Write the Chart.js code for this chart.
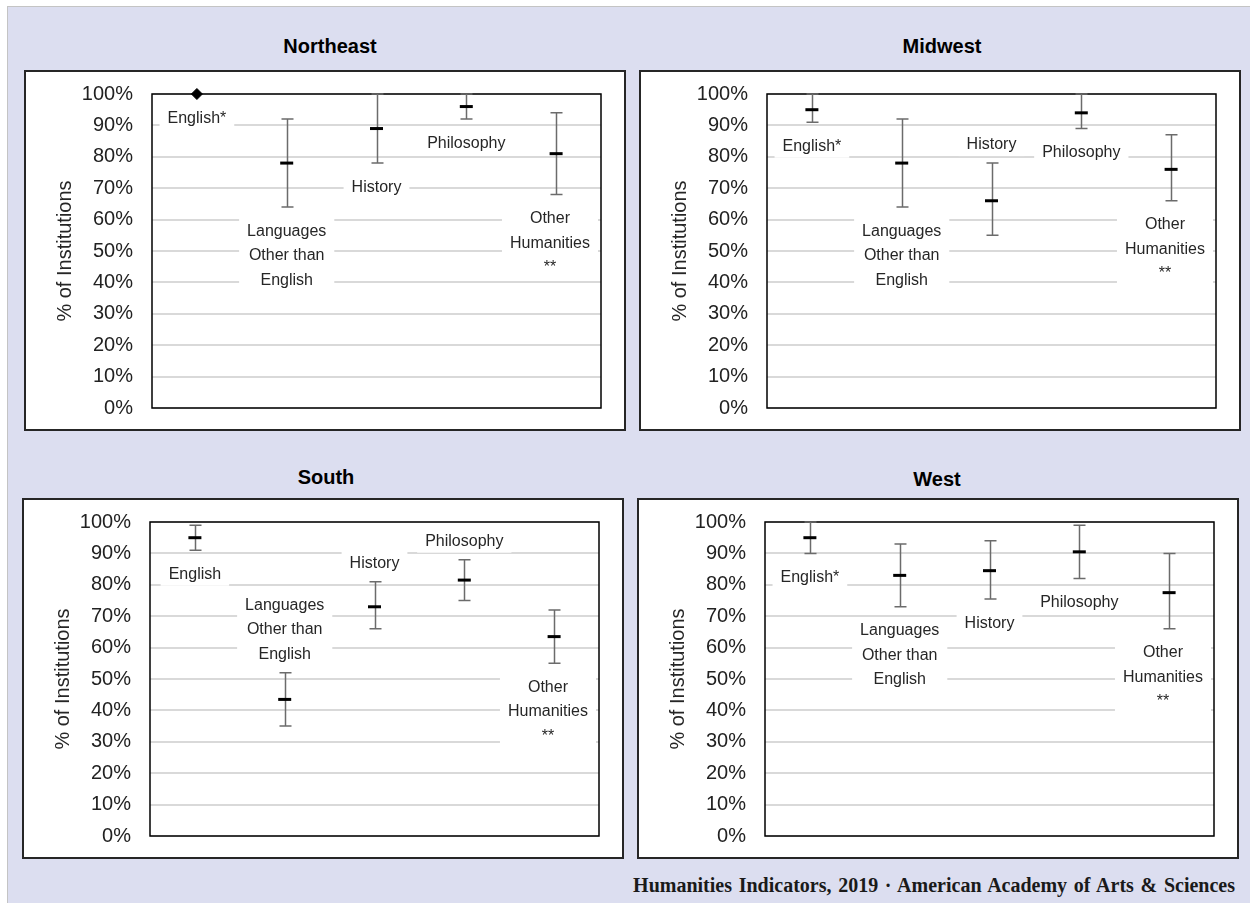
<!DOCTYPE html>
<html>
<head>
<meta charset="utf-8">
<script src="https://cdn.jsdelivr.net/npm/chart.js@4.4.1/dist/chart.umd.min.js"></script>
<style>
  body { margin: 0; width: 1250px; height: 903px; position: relative; background: #fff; overflow: hidden;
         font-family: "Liberation Sans", Arial, sans-serif; }
  .page { position: absolute; left: 7px; top: 6px; right: 0; bottom: 0; background: #dcdef0;
          border-left: 1px solid #c4c4c4; border-top: 1px solid #c4c4c4; }
  .title { position: absolute; transform: translate(-50%, -50%); font-weight: bold; font-size: 20px; color: #000; }
  .panel { position: absolute; width: 598px; height: 357px; background: #fff; border: 2px solid #262626; }
  .footer { position: absolute; right: 15px; top: 874px; font-family: "Liberation Serif", "Times New Roman", serif;
            font-weight: bold; font-size: 20px; word-spacing: 1.7px; color: #1a1a1a; }
</style>
</head>
<body>
<div class="page"></div>

<div class="title" style="left:330px; top:46px;">Northeast</div>
<div class="title" style="left:942px; top:46px;">Midwest</div>
<div class="title" style="left:326px; top:477px;">South</div>
<div class="title" style="left:937px; top:479px;">West</div>

<div class="panel" style="left:24px; top:70px;"><canvas id="ne"></canvas></div>
<div class="panel" style="left:639px; top:70px;"><canvas id="mw"></canvas></div>
<div class="panel" style="left:22px; top:498px;"><canvas id="so"></canvas></div>
<div class="panel" style="left:637px; top:498px;"><canvas id="we"></canvas></div>

<div class="footer">Humanities Indicators, 2019 · American Academy of Arts &amp; Sciences</div>

<script>
// categories and label text (multi-line)
const categories = ["English", "Languages Other than English", "History", "Philosophy", "Other Humanities"];
const labelLines = [["English*"], ["Languages", "Other than", "English"], ["History"], ["Philosophy"], ["Other", "Humanities", "**"]];
const southLabelLines = [["English"], ["Languages", "Other than", "English"], ["History"], ["Philosophy"], ["Other", "Humanities", "**"]];

const yTicks = [0, 10, 20, 30, 40, 50, 60, 70, 80, 90, 100];

// Northeast
const neMean = [100, 78, 89, 96, 81];
const neLow = [100, 64, 78, 92, 68];
const neHigh = [100, 92, 100, 100, 94];

// Midwest
const mwMean = [95, 78, 66, 94, 76];
const mwLow = [91, 64, 55, 89, 66];
const mwHigh = [100, 92, 78, 100, 87];

// South
const soMean = [95, 43.5, 73, 81.5, 63.5];
const soLow = [91, 35, 66, 75, 55];
const soHigh = [99, 52, 81, 88, 72];

// West
const weMean = [95, 83, 84.5, 90.5, 77.5];
const weLow = [90, 73, 75.5, 82, 66];
const weHigh = [100, 93, 94, 99, 90];

// where the category label sits relative to its whisker
const neSides = ["below", "below", "below", "below", "below"];
const mwSides = ["below", "below", "above", "below", "below"];
const soSides = ["below", "above", "above", "above", "below"];
const weSides = ["below", "below", "below", "below", "below"];

function whiskerPlugin(low, high, lines, sides) {
  return {
    id: "whiskers",
    beforeDatasetsDraw(chart) {
      const { ctx, chartArea: a, scales: { x, y } } = chart;
      ctx.save();
      ctx.strokeStyle = "#000";
      ctx.lineWidth = 1.5;
      ctx.strokeRect(a.left, a.top, a.width, a.height);

      ctx.strokeStyle = "#6b6b6b";
      ctx.lineWidth = 1.5;
      low.forEach((lo, i) => {
        if (lo === high[i]) return;
        const cx = Math.round(x.getPixelForValue(i)) + 0.5;
        const y1 = y.getPixelForValue(lo);
        const y2 = y.getPixelForValue(high[i]);
        ctx.beginPath();
        ctx.moveTo(cx, y1);
        ctx.lineTo(cx, y2);
        ctx.moveTo(cx - 6, y1);
        ctx.lineTo(cx + 6, y1);
        ctx.moveTo(cx - 6, y2);
        ctx.lineTo(cx + 6, y2);
        ctx.stroke();
      });
      ctx.restore();
    },
    afterDatasetsDraw(chart) {
      const { ctx, chartArea: a, scales: { x, y } } = chart;
      const lh = 24.5;
      ctx.save();
      ctx.font = "16px 'Liberation Sans', Arial, sans-serif";
      ctx.textAlign = "center";
      ctx.textBaseline = "middle";
      lines.forEach((txt, i) => {
        const w = Math.max(...txt.map((t) => ctx.measureText(t).width)) + 16;
        const h = txt.length * lh;
        let cx = x.getPixelForValue(i);
        // keep the label box inside the plot area
        if (cx + w / 2 > a.right - 3) cx = a.right - 3 - w / 2;
        let top;
        if (sides[i] === "above") {
          top = y.getPixelForValue(high[i]) - 7 - h;
        } else {
          top = y.getPixelForValue(low[i]) + 11;
        }
        ctx.fillStyle = "#fff";
        ctx.fillRect(cx - w / 2, top, w, h);
        ctx.fillStyle = "#262626";
        txt.forEach((t, k) => ctx.fillText(t, cx, top + lh * k + lh / 2 + 1));
      });
      ctx.restore();
    },
  };
}

function makePanel(id, mean, low, high, lines, sides) {
  new Chart(document.getElementById(id), {
    type: "line",
    data: {
      labels: categories,
      datasets: [
        {
          data: mean,
          showLine: false,
          clip: false,
          pointStyle: mean.map((m, i) => (low[i] === high[i] ? "rectRot" : "line")),
          pointRadius: mean.map((m, i) => (low[i] === high[i] ? 5.5 : 6.5)),
          pointBorderWidth: mean.map((m, i) => (low[i] === high[i] ? 1 : 3)),
          pointBackgroundColor: "#000",
          pointBorderColor: "#000",
        },
      ],
    },
    options: {
      responsive: true,
      maintainAspectRatio: false,
      animation: false,
      layout: { padding: { top: 22, right: 23, bottom: 21, left: 0 } },
      plugins: { legend: { display: false }, tooltip: { enabled: false } },
      scales: {
        x: { display: false, offset: true },
        y: {
          min: 0,
          max: 100,
          afterFit: (scale) => {
            scale.width = 126;
            scale.paddingTop = 0;
            scale.paddingBottom = 0;
          },
          afterBuildTicks: (scale) => { scale.ticks = yTicks.map((v) => ({ value: v })); },
          border: { display: false },
          grid: { color: "#d9d9d9", lineWidth: 2, drawTicks: false },
          ticks: {
            padding: 19,
            color: "#222",
            font: { size: 20, family: "'Liberation Sans', Arial, sans-serif" },
            callback: (v) => v + "%",
          },
          title: {
            display: true,
            text: "% of Institutions",
            color: "#262626",
            font: { size: 20, family: "'Liberation Sans', Arial, sans-serif" },
            padding: { top: 27, bottom: 0 },
          },
        },
      },
    },
    plugins: [whiskerPlugin(low, high, lines, sides)],
  });
}

makePanel("ne", neMean, neLow, neHigh, labelLines, neSides);
makePanel("mw", mwMean, mwLow, mwHigh, labelLines, mwSides);
makePanel("so", soMean, soLow, soHigh, southLabelLines, soSides);
makePanel("we", weMean, weLow, weHigh, labelLines, weSides);
</script>
</body>
</html>
